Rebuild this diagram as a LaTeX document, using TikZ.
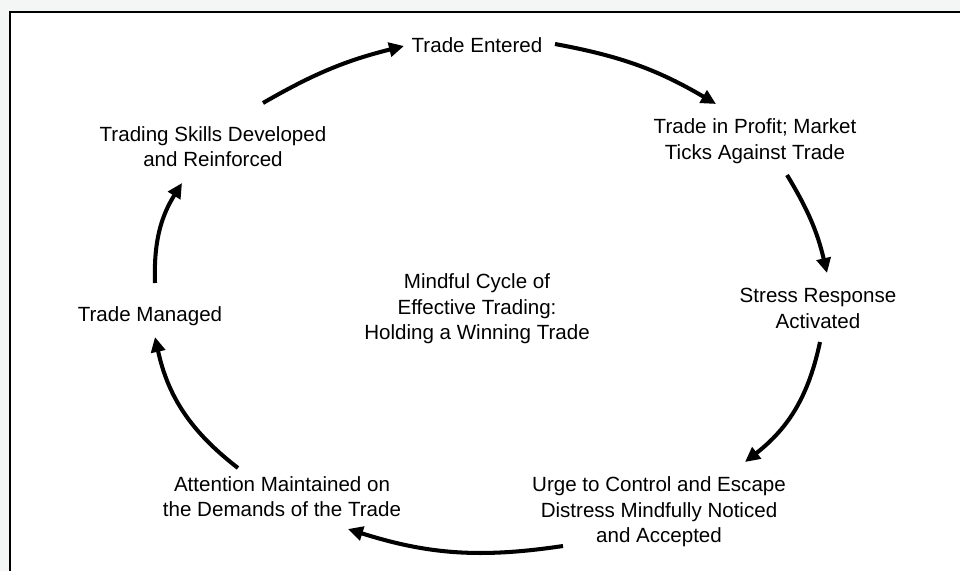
\documentclass[tikz,border=0pt]{standalone}
\usepackage{fontspec}
\setmainfont{Liberation Sans}
\usetikzlibrary{arrows.meta}

\definecolor{paper}{HTML}{F4F5F5}

\tikzset{
  stage/.style={align=center, inner sep=0pt, font=\fontsize{11.7}{14.6}\selectfont},
  cyc/.style={line width=2.3pt, -{Triangle[length=8.5pt,width=8pt]}},
}

\begin{document}
\begin{tikzpicture}[x=0.02cm, y=-0.02cm]
        \useasboundingbox (0,0) rectangle (960,571);
        \fill[paper] (0,0) rectangle (960,571);
        \fill[white] (10,12) rectangle (960,571);
        \draw[line width=1.4pt] (10,571) -- (10,12) -- (960,12);

        \node (entered) [stage] at (477,45) {Trade Entered};
        \node (profit) [stage] at (755,141.5) {Trade in Profit; Market\\Ticks Against Trade};
        \node (stress) [stage] at (818,308.5) {Stress Response\\Activated};
        \node (urge) [stage] at (659,512) {Urge to Control and Escape\\Distress Mindfully Noticed\\and Accepted};
        \node (attention) [stage] at (282,496.5) {Attention Maintained on\\the Demands of the Trade};
        \node (managed) [stage] at (150,316) {Trade Managed};
        \node (skills) [stage] at (213,146.5) {Trading Skills Developed\\and Reinforced};
        \node (title) [stage] at (477,309) {Mindful Cycle of\\Effective Trading:\\Holding a Winning Trade};

        \draw[cyc] ([shift={(50,-43.5)}]skills.center) to[bend left=8] ([shift={(-73,1)}]entered.center);
        \draw[cyc] ([shift={(78,-1)}]entered.center) to[bend left=10] ([shift={(-39,-37.5)}]profit.center);
        \draw[cyc] ([shift={(32,33.5)}]profit.center) to[bend left=9] ([shift={(9,-35.5)}]stress.center);
        \draw[cyc] ([shift={(2,33.5)}]stress.center) to[bend left=20] ([shift={(86,-50)}]urge.center);
        \draw[cyc] ([shift={(-96,34)}]urge.center) to[bend left=13] ([shift={(66,32.5)}]attention.center);
        \draw[cyc] ([shift={(-44,-28.5)}]attention.center) to[bend left=20] ([shift={(5,21)}]managed.center);
        \draw[cyc] ([shift={(5,-33)}]managed.center) to[bend left=17] ([shift={(-31,36.5)}]skills.center);
    \end{tikzpicture}
\end{document}
